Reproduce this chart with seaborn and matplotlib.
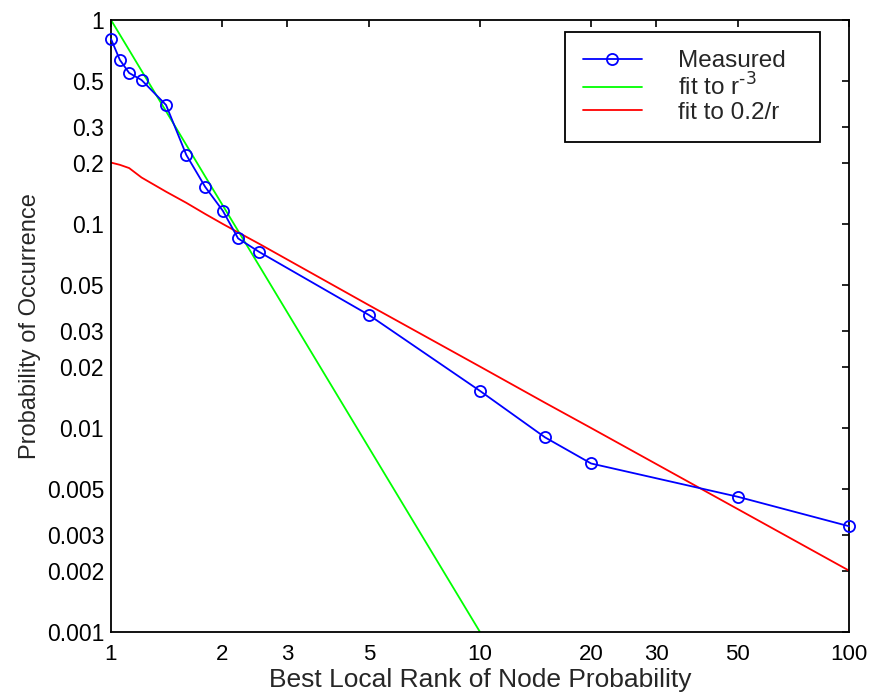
import matplotlib
matplotlib.use("Agg")
import matplotlib.pyplot as plt
import seaborn as sns
import pandas as pd
from matplotlib.ticker import FixedLocator, FixedFormatter, NullLocator

sns.set_theme(style="white")
plt.rcParams['font.family'] = ['Liberation Sans', 'DejaVu Sans']

# Data
rank = [1, 1.057, 1.12, 1.21, 1.41, 1.6, 1.8, 2.01, 2.21, 2.52, 5, 10, 15, 20, 50, 100]
measured = [0.807, 0.637, 0.55, 0.508, 0.383, 0.218, 0.152, 0.116, 0.085, 0.073,
            0.0358, 0.0152, 0.0090, 0.0067, 0.0046, 0.0033]
fit_r3_rank = [1, 1.057, 1.12, 1.21, 1.41, 1.6, 1.8, 2.01, 2.21, 2.52, 5, 10]
fit_r3 = [1.0, 0.847, 0.712, 0.564, 0.357, 0.244, 0.171, 0.123, 0.0926, 0.0625, 0.008, 0.001]
fit_02r = [0.2, 0.195, 0.188, 0.169, 0.144, 0.127, 0.112, 0.1, 0.091, 0.08,
           0.04, 0.02, 0.0133, 0.01, 0.004, 0.002]

xticks = [1, 2, 3, 5, 10, 20, 30, 50, 100]
xticklabels = ["1", "2", "3", "5", "10", "20", "30", "50", "100"]
yticks = [0.001, 0.002, 0.003, 0.005, 0.01, 0.02, 0.03, 0.05, 0.1, 0.2, 0.3, 0.5, 1]
yticklabels = ["0.001", "0.002", "0.003", "0.005", "0.01", "0.02", "0.03", "0.05",
               "0.1", "0.2", "0.3", "0.5", "1"]

df_meas = pd.DataFrame({"x": rank, "y": measured})
df_g = pd.DataFrame({"x": fit_r3_rank, "y": fit_r3})
df_r = pd.DataFrame({"x": rank, "y": fit_02r})

fig = plt.figure(figsize=(8.73, 6.93), dpi=100)
ax = fig.add_axes([111/873, 1 - 632/693, (849-111)/873, (632-20)/693])

sns.lineplot(data=df_meas, x="x", y="y", ax=ax, color="#0000ff", lw=1.3,
             marker="o", markersize=8, markerfacecolor="none",
             markeredgecolor="#0000ff", markeredgewidth=1.3, label="Measured",
             estimator=None, sort=False, clip_on=False, zorder=5)
sns.lineplot(data=df_g, x="x", y="y", ax=ax, color="#00ff00", lw=1.3,
             label="fit to r$^{\\mathrm{\u2010}3}$", estimator=None, sort=False)
sns.lineplot(data=df_r, x="x", y="y", ax=ax, color="#ff0000", lw=1.3,
             label="fit to 0.2/r", estimator=None, sort=False)

ax.set_xscale("log")
ax.set_yscale("log")
ax.set_xlim(1, 100)
ax.set_ylim(0.001, 1)
ax.xaxis.set_major_locator(FixedLocator(xticks))
ax.xaxis.set_major_formatter(FixedFormatter(xticklabels))
ax.xaxis.set_minor_locator(NullLocator())
ax.yaxis.set_major_locator(FixedLocator(yticks))
ax.yaxis.set_major_formatter(FixedFormatter(yticklabels))
ax.yaxis.set_minor_locator(NullLocator())
ax.tick_params(axis="both", which="major", direction="in", length=5, width=1.2,
               top=True, right=True, colors="black")
ax.tick_params(axis="x", labelsize=16, pad=9)
ax.tick_params(axis="y", labelsize=16.5, pad=5)
for s in ax.spines.values():
    s.set_color("black")
    s.set_linewidth(1.3)
ax.set_xlabel("Best Local Rank of Node Probability", fontsize=19, labelpad=2)
ax.set_ylabel("Probability of Occurrence", fontsize=17, labelpad=4)

bx0, by_top, bw, bh = 565/873, 1 - 32/693, 255/873, 105/693
leg = ax.legend(loc="upper left", bbox_to_anchor=(bx0, by_top - bh, bw, bh),
                bbox_transform=fig.transFigure, mode="expand", fontsize=17.5,
                frameon=True, fancybox=False, edgecolor="black", framealpha=1,
                handlelength=2.4, handletextpad=1.5, borderpad=0.75,
                labelspacing=0.05, borderaxespad=0)
leg.get_frame().set_linewidth(1.3)

fig.savefig("out.png", dpi=100)
